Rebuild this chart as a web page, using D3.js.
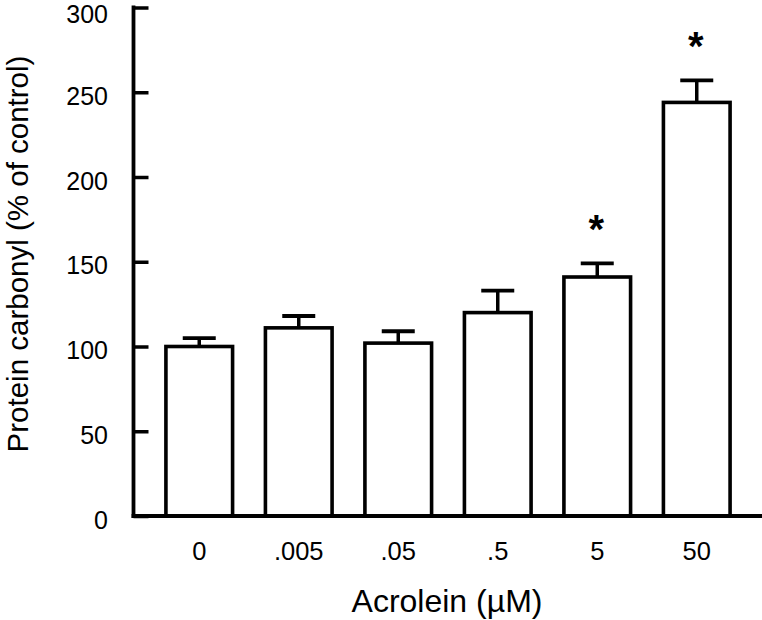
<!DOCTYPE html>
<html>
<head>
<meta charset="utf-8">
<script src="https://cdn.jsdelivr.net/npm/d3@7"></script>
<style>
  body { margin: 0; background: #fff; }
  text { font-family: "Liberation Sans", Arial, sans-serif; fill: #000; }
</style>
</head>
<body>
<svg id="chart" width="762" height="620"></svg>
<script>
// acrolein dose groups
var doses = ["0", ".005", ".05", ".5", "5", "50"];
// protein carbonyl, % of control
var means = [100, 111, 102, 120, 141, 244];
var sems = [5, 7, 7, 13, 8, 13];
// significant vs control
var signif = [false, false, false, false, true, true];
var yTicks = [0, 50, 100, 150, 200, 250, 300];

var svg = d3.select("#chart");

var y = d3.scaleLinear().domain([0, 300]).range([516, 7.5]);
var x = d3.scaleBand().domain(doses).range([149.5, 746.5])
    .paddingInner(0.33).paddingOuter(0.165);

var rows = doses.map(function (d, i) {
    return { dose: d, mean: means[i], sem: sems[i], star: signif[i] };
});

// error bars first so the bar outline covers the stem foot
var err = svg.append("g").selectAll("g").data(rows).enter().append("g");
err.append("line")
    .attr("x1", function (d) { return x(d.dose) + x.bandwidth() / 2; })
    .attr("x2", function (d) { return x(d.dose) + x.bandwidth() / 2; })
    .attr("y1", function (d) { return y(d.mean); })
    .attr("y2", function (d) { return y(d.mean + d.sem); })
    .attr("stroke", "#000").attr("stroke-width", 3.5);
err.append("line")
    .attr("x1", function (d) { return x(d.dose) + x.bandwidth() / 2 - 16.5; })
    .attr("x2", function (d) { return x(d.dose) + x.bandwidth() / 2 + 16.5; })
    .attr("y1", function (d) { return y(d.mean + d.sem); })
    .attr("y2", function (d) { return y(d.mean + d.sem); })
    .attr("stroke", "#000").attr("stroke-width", 3.8);

svg.append("g").selectAll("rect").data(rows).enter().append("rect")
    .attr("x", function (d) { return x(d.dose); })
    .attr("width", x.bandwidth())
    .attr("y", function (d) { return y(d.mean); })
    .attr("height", function (d) { return y(0) - y(d.mean); })
    .attr("fill", "#fff").attr("stroke", "#000").attr("stroke-width", 3.6);

// asterisks
svg.append("g").selectAll("text").data(rows.filter(function (d) { return d.star; }))
    .enter().append("text")
    .attr("x", function (d) { return x(d.dose) + x.bandwidth() / 2 - 1; })
    .attr("y", function (d) { return y(d.mean + d.sem) - 20; })
    .attr("text-anchor", "middle")
    .attr("font-size", 40).attr("font-weight", "bold")
    .text("*");

// y axis, ticks pointing inward
var yAxis = svg.append("g").attr("transform", "translate(133.5,0)")
    .call(d3.axisRight(y).tickValues(yTicks).tickSize(15).tickFormat(""));
yAxis.select(".domain").remove();
yAxis.selectAll(".tick line").attr("stroke", "#000").attr("stroke-width", 3.5);
svg.append("line").attr("x1", 133.5).attr("x2", 133.5).attr("y1", 5.5).attr("y2", 518)
    .attr("stroke", "#000").attr("stroke-width", 3.8);
svg.append("g").selectAll("text").data(yTicks).enter().append("text")
    .attr("x", 108)
    .attr("y", function (d) { return Math.max(y(d) + 12.5, 23); })
    .attr("text-anchor", "end").attr("font-size", 25)
    .text(function (d) { return d; });

// x axis baseline runs to the right edge
svg.append("line").attr("x1", 131.6).attr("x2", 762).attr("y1", 516).attr("y2", 516)
    .attr("stroke", "#000").attr("stroke-width", 3.8);
svg.append("g").selectAll("text").data(doses).enter().append("text")
    .attr("x", function (d) { return x(d) + x.bandwidth() / 2; })
    .attr("y", 560)
    .attr("text-anchor", "middle").attr("font-size", 25.5)
    .text(function (d) { return d; });

svg.append("text").attr("x", 447).attr("y", 612)
    .attr("text-anchor", "middle").attr("font-size", 32)
    .text("Acrolein (µM)");
svg.append("text")
    .attr("transform", "translate(27.5,254) rotate(-90)")
    .attr("text-anchor", "middle").attr("font-size", 29.5)
    .text("Protein carbonyl (% of control)");
</script>
</body>
</html>
